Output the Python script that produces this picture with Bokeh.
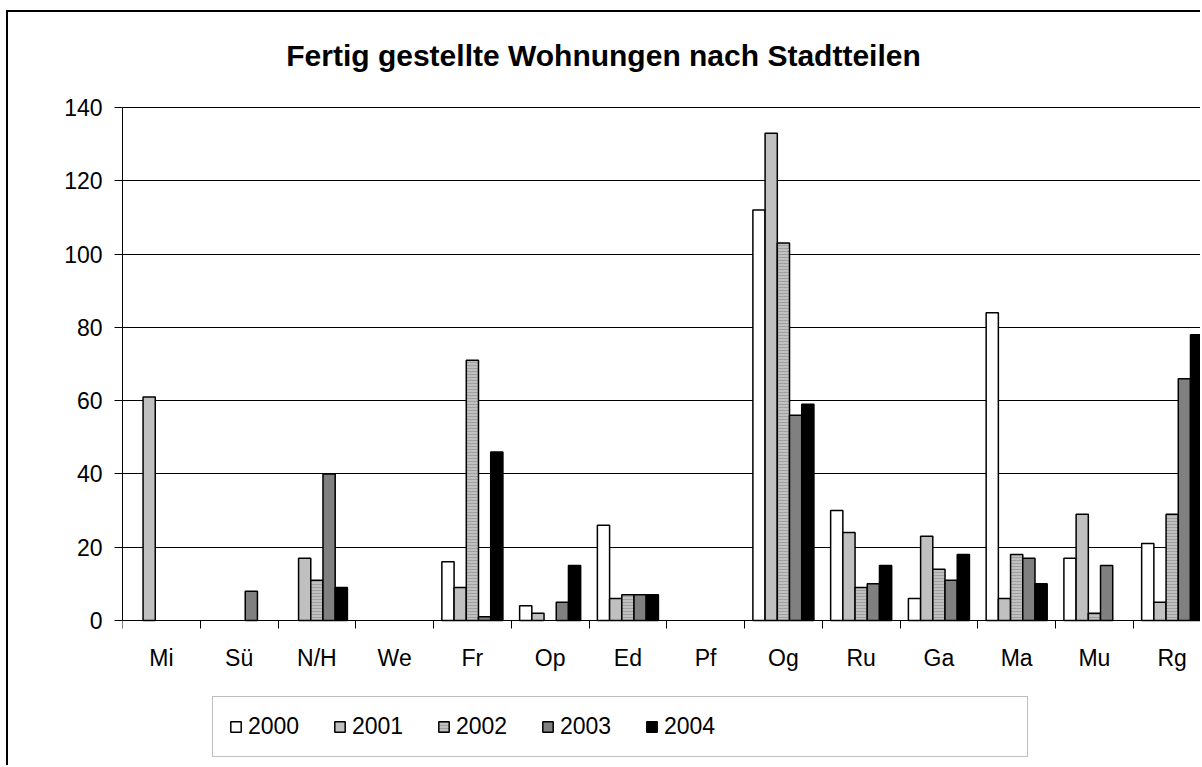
import numpy as np
from bokeh.plotting import figure
from bokeh.models import Range1d, FixedTicker, Legend, LegendItem, Label, ColumnDataSource
from bokeh.embed import file_html
from bokeh.resources import INLINE

# ---------------- data ----------------
categories = ["Mi", "Sü", "N/H", "We", "Fr", "Op", "Ed", "Pf", "Og", "Ru", "Ga", "Ma", "Mu", "Rg"]
years = ["2000", "2001", "2002", "2003", "2004"]
v2000 = [0, 0, 0, 0, 16, 4, 26, 0, 112, 30, 6, 84, 17, 21]
v2001 = [61, 0, 17, 0, 9, 2, 6, 0, 133, 24, 23, 6, 29, 5]
v2002 = [0, 0, 11, 0, 71, 0, 7, 0, 103, 9, 14, 18, 2, 29]
v2003 = [0, 8, 40, 0, 1, 5, 7, 0, 56, 10, 11, 17, 15, 66]
v2004 = [0, 0, 9, 0, 46, 15, 7, 0, 59, 15, 18, 10, 0, 78]
y_ticks = [0, 20, 40, 60, 80, 100, 120, 140]
title_text = "Fertig gestellte Wohnungen nach Stadtteilen"

series = [v2000, v2001, v2002, v2003, v2004]
fills = ["#FFFFFF", "#C0C0C0", "#C0C0C0", "#808080", "#000000"]
hatches = [None, None, "horizontal_line", None, None]

FONT = "Liberation Sans"
W, H = 1194, 755
# frame covers the canvas below/above the plot area so that title and legend are not clipped
PLOT_TOP, PLOT_BOTTOM = 95, 608          # canvas px of value 140 and value 0
ppu = (PLOT_BOTTOM - PLOT_TOP) / 140.0
y_start = -(H - PLOT_BOTTOM) / ppu
y_end = 140 + PLOT_TOP / ppu

p = figure(width=W, height=H, output_backend="svg", toolbar_location=None,
           x_range=Range1d(0, 13.89), y_range=Range1d(y_start, y_end),
           min_border_left=114, min_border_right=0, min_border_top=0,
           min_border_bottom=0)
p.styles = {"margin-left": "6px", "margin-top": "10px",
            "border-left": "2px solid black", "border-top": "2px solid black"}
p.outline_line_color = None
p.background_fill_color = "white"
p.border_fill_color = "white"

n = len(categories)
bw = 0.157
centers = np.arange(n) + 0.5
renderers = []
for k, (vals, fc, hp) in enumerate(zip(series, fills, hatches)):
    vals_a = np.array(vals, dtype=float)
    # zero values are not drawn (as in the original chart)
    src = ColumnDataSource(dict(x=centers + (k - 2) * bw,
                                top=np.where(vals_a > 0, vals_a, np.nan)))
    kw = {}
    if hp:
        kw = dict(hatch_pattern=hp, hatch_color="#A0A0A0", hatch_scale=3, hatch_weight=1)
    r = p.vbar(x="x", top="top", bottom=0, width=bw, source=src,
               fill_color=fc, line_color="black", line_width=1.5, **kw)
    renderers.append(r)

# invisible spacer item to widen the legend box
spacer = p.vbar(x=[], top=[], width=bw, fill_alpha=0, line_alpha=0)

# grid
p.xgrid.visible = False
p.ygrid.ticker = FixedTicker(ticks=y_ticks)
p.ygrid.grid_line_color = "black"
p.ygrid.grid_line_width = 1

# y axis
ya = p.yaxis[0]
ya.bounds = (0, 140)
ya.ticker = FixedTicker(ticks=y_ticks)
ya.major_tick_out = 8
ya.major_tick_in = 0
ya.minor_tick_out = 0
ya.axis_line_color = "black"
ya.major_tick_line_color = "black"
ya.major_label_text_font = FONT
ya.major_label_text_font_size = "23px"
ya.major_label_text_color = "black"
ya.major_label_standoff = 12

# x axis (fixed at value 0)
xa = p.xaxis[0]
xa.fixed_location = 0
xa.ticker = FixedTicker(ticks=list(centers), minor_ticks=list(range(n + 1)))
xa.major_label_overrides = {float(c): lab for c, lab in zip(centers, categories)}
xa.major_tick_out = 0
xa.major_tick_in = 0
xa.minor_tick_out = 8
xa.minor_tick_in = 0
xa.minor_tick_line_color = "black"
xa.axis_line_color = "black"
xa.major_label_text_font = FONT
xa.major_label_text_font_size = "23px"
xa.major_label_text_color = "black"
xa.major_label_standoff = 16

# title
title = Label(x=481, y=H - 43, x_units="screen", y_units="screen", text=title_text,
              text_font=FONT, text_font_size="30px", text_font_style="bold",
              text_align="center", text_baseline="middle", text_color="black")
p.add_layout(title)

# legend
items = [LegendItem(label=y, renderers=[r]) for y, r in zip(years, renderers)]
items.append(LegendItem(label="\u00a0" * 38, renderers=[spacer]))
legend = Legend(items=items, orientation="horizontal", location=(90, 10),
                padding=16, spacing=0, margin=0,
                glyph_width=13, glyph_height=13, label_standoff=6, label_width=85,
                border_line_color="#808080", border_line_width=1,
                background_fill_color="white", background_fill_alpha=1,
                label_text_font=FONT, label_text_font_size="23px",
                label_text_color="black")
p.add_layout(legend, "center")

open("out.html", "w").write(file_html(p, INLINE))
